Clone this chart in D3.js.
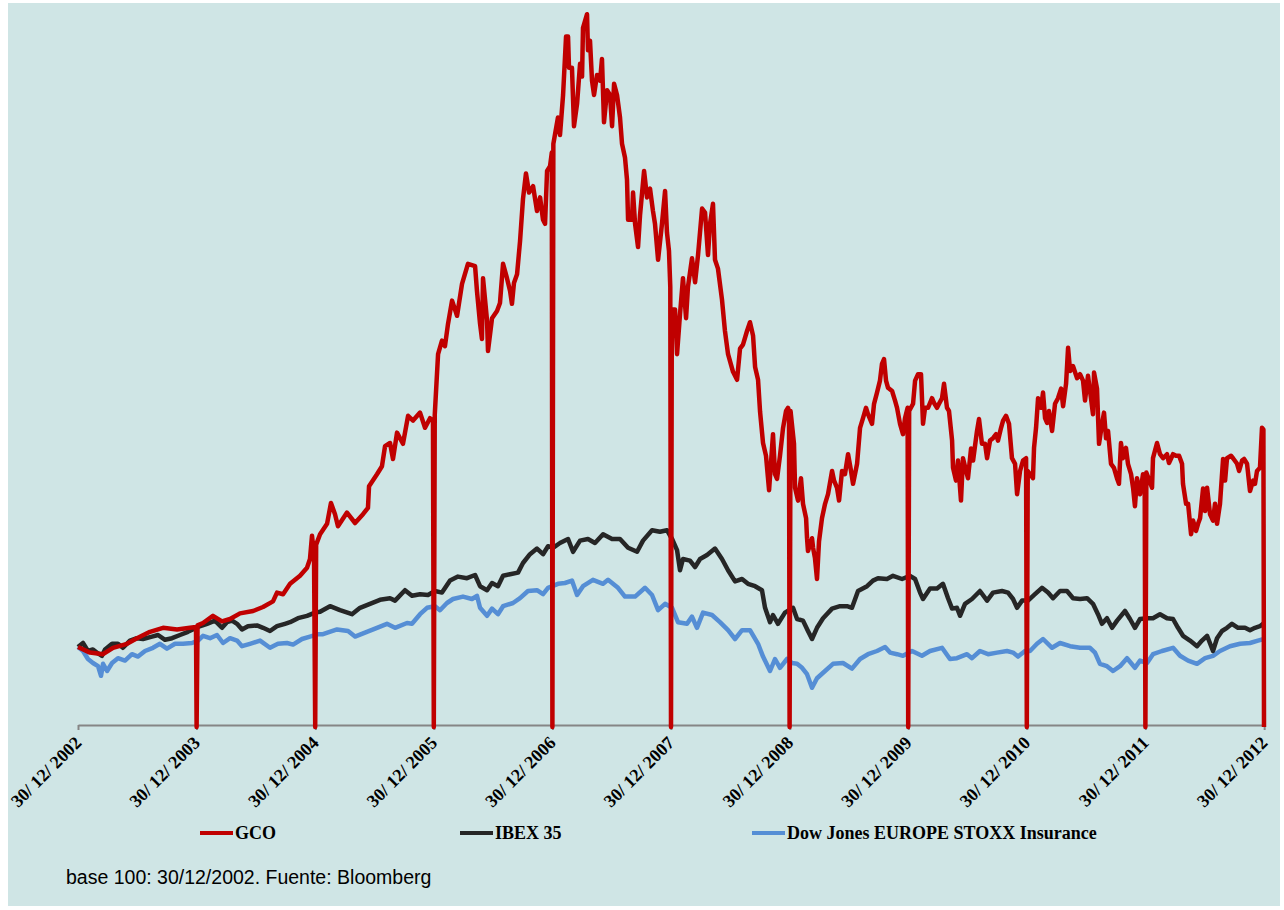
<!DOCTYPE html>
<html>
<head>
<meta charset="utf-8">
<script src="https://cdn.jsdelivr.net/npm/d3@7"></script>
<style>
  body { margin: 0; background: #ffffff; }
  svg { display: block; }
</style>
</head>
<body>
<svg id="chart" width="1284" height="910"></svg>
<script>
// Year-end dates shown on the time axis
const tickLabels = ["30/12/2002", "30/12/2003", "30/12/2004", "30/12/2005", "30/12/2006",
  "30/12/2007", "30/12/2008", "30/12/2009", "30/12/2010", "30/12/2011", "30/12/2012"];

const seriesNames = ["GCO", "IBEX 35", "Dow Jones EUROPE STOXX Insurance"];
const footnote = "base 100: 30/12/2002. Fuente: Bloomberg";

// Each point: [years elapsed since 30/12/2002, index value (base 100)]
// GCO carries a 0 on every year-end date.
const gco = [
  [0,100],[0.101,93],[0.211,91],[0.295,99],[0.413,104],[0.497,111],[0.607,119],[0.717,124],[0.835,122],[0.944,124],[0.995,125],
  [1,0],
  [1.008,127],[1.054,130],[1.138,139],[1.214,132],[1.282,135],[1.366,142],[1.476,145],[1.560,150],[1.644,157],[1.678,168],[1.729,166],[1.788,179],[1.872,189],[1.931,199],[1.956,210],[1.973,239],[1.990,216],
  [2,0],
  [2.008,228],[2.041,241],[2.100,254],[2.133,280],[2.167,266],[2.192,251],[2.268,268],[2.336,255],[2.403,266],[2.445,274],[2.454,301],[2.521,316],[2.563,326],[2.589,351],[2.631,355],[2.656,335],[2.690,368],[2.740,354],[2.783,389],[2.825,383],[2.884,393],[2.926,374],[2.968,386],[2.993,383],
  [3,0],
  [3.008,390],[3.036,466],[3.069,483],[3.094,476],[3.120,504],[3.154,533],[3.196,514],[3.238,554],[3.288,579],[3.348,576],[3.364,545],[3.390,504],[3.406,485],[3.415,561],[3.449,508],[3.457,470],[3.491,511],[3.533,520],[3.558,530],[3.584,579],[3.617,561],[3.643,545],[3.659,529],[3.676,555],[3.702,566],[3.727,607],[3.752,660],[3.777,692],[3.803,668],[3.837,676],[3.870,645],[3.896,662],[3.921,634],[3.938,629],[3.955,695],[3.980,701],[3.995,718],
  [4,0],
  [4.008,729],[4.047,762],[4.064,740],[4.090,790],[4.115,863],[4.132,863],[4.140,824],[4.165,824],[4.182,751],[4.208,779],[4.233,829],[4.250,813],[4.258,874],[4.292,891],[4.300,846],[4.317,858],[4.334,808],[4.351,790],[4.376,815],[4.402,808],[4.418,835],[4.435,756],[4.461,796],[4.486,790],[4.503,751],[4.520,804],[4.545,790],[4.570,762],[4.587,729],[4.612,712],[4.629,684],[4.638,634],[4.671,634],[4.680,668],[4.697,629],[4.722,600],[4.739,640],[4.773,695],[4.798,662],[4.823,673],[4.848,645],[4.865,629],[4.891,584],[4.924,629],[4.950,670],[4.966,618],[4.983,595],[4.994,550],
  [5,0],
  [5.007,522],[5.034,522],[5.051,466],[5.076,516],[5.101,561],[5.127,511],[5.143,550],[5.177,586],[5.203,556],[5.228,590],[5.262,648],[5.287,643],[5.312,590],[5.329,629],[5.354,654],[5.371,584],[5.396,573],[5.430,534],[5.455,495],[5.481,466],[5.523,444],[5.557,434],[5.582,473],[5.607,478],[5.641,495],[5.666,506],[5.692,489],[5.709,450],[5.734,434],[5.751,394],[5.776,355],[5.801,339],[5.827,296],[5.860,366],[5.877,316],[5.894,310],[5.919,339],[5.945,374],[5.970,395],[5.987,399],[5.995,390],
  [6,0],
  [6.008,395],[6.037,354],[6.046,299],[6.071,283],[6.096,311],[6.113,279],[6.139,261],[6.147,236],[6.155,220],[6.189,236],[6.198,224],[6.214,211],[6.231,185],[6.248,232],[6.273,261],[6.299,279],[6.324,291],[6.358,320],[6.375,308],[6.400,299],[6.417,283],[6.442,320],[6.467,316],[6.493,341],[6.518,320],[6.535,304],[6.569,329],[6.594,374],[6.619,386],[6.644,399],[6.661,391],[6.695,379],[6.712,404],[6.737,418],[6.762,433],[6.779,454],[6.796,460],[6.813,433],[6.830,424],[6.864,420],[6.889,408],[6.906,399],[6.931,379],[6.956,366],[6.973,386],[6.995,399],
  [7,0],
  [7.008,395],[7.041,404],[7.058,433],[7.083,441],[7.108,441],[7.125,379],[7.142,399],[7.167,399],[7.201,411],[7.218,405],[7.243,399],[7.260,404],[7.285,411],[7.302,429],[7.327,399],[7.344,395],[7.370,358],[7.378,324],[7.403,308],[7.420,333],[7.445,283],[7.462,336],[7.488,320],[7.504,311],[7.530,348],[7.547,333],[7.580,370],[7.597,385],[7.622,354],[7.648,354],[7.665,336],[7.690,358],[7.715,361],[7.741,366],[7.757,358],[7.783,374],[7.800,383],[7.825,389],[7.850,379],[7.875,336],[7.901,329],[7.918,291],[7.943,320],[7.968,333],[7.994,336],
  [8,0],
  [8.008,320],[8.052,311],[8.061,349],[8.078,374],[8.095,411],[8.120,399],[8.137,418],[8.154,386],[8.171,380],[8.187,395],[8.213,370],[8.238,404],[8.263,411],[8.289,423],[8.306,401],[8.331,429],[8.348,474],[8.365,445],[8.390,451],[8.424,436],[8.449,441],[8.474,433],[8.491,408],[8.516,439],[8.542,410],[8.558,391],[8.567,443],[8.592,423],[8.609,354],[8.634,379],[8.651,393],[8.668,361],[8.685,370],[8.710,329],[8.735,324],[8.760,311],[8.777,304],[8.794,355],[8.811,336],[8.836,349],[8.853,329],[8.879,316],[8.896,299],[8.912,276],[8.929,311],[8.955,291],[8.980,316],[8.994,308],
  [9,0],
  [9.008,318],[9.056,299],[9.064,336],[9.098,355],[9.123,341],[9.149,336],[9.182,341],[9.199,330],[9.233,341],[9.258,339],[9.284,339],[9.309,329],[9.317,304],[9.343,279],[9.360,279],[9.385,241],[9.402,258],[9.427,245],[9.444,254],[9.461,261],[9.486,298],[9.503,270],[9.520,299],[9.545,266],[9.570,258],[9.587,279],[9.604,254],[9.629,279],[9.655,335],[9.672,308],[9.688,336],[9.722,339],[9.739,336],[9.773,329],[9.790,320],[9.815,333],[9.832,335],[9.857,329],[9.882,295],[9.908,308],[9.924,304],[9.941,320],[9.966,324],[9.983,374],[9.995,372],
  [10,0]
];

const ibex = [
  [0,100],[0.042,105],[0.084,95],[0.126,97],[0.169,92],[0.202,89],[0.228,97],[0.287,104],[0.337,104],[0.379,99],[0.438,108],[0.497,111],[0.548,110],[0.624,113],[0.675,115],[0.734,109],[0.793,111],[0.860,115],[0.927,119],
  [1.012,125],[1.088,129],[1.155,133],[1.214,124],[1.256,131],[1.299,133],[1.341,129],[1.383,122],[1.433,126],[1.509,127],[1.560,124],[1.619,120],[1.678,126],[1.745,129],[1.788,131],[1.855,136],[1.931,139],[1.998,143],
  [2.041,144],[2.125,151],[2.209,146],[2.310,141],[2.378,149],[2.462,154],[2.546,159],[2.631,161],[2.673,158],[2.757,171],[2.816,164],[2.884,166],[2.951,165],
  [3.010,170],[3.069,168],[3.137,183],[3.204,188],[3.280,186],[3.348,190],[3.390,176],[3.449,171],[3.491,180],[3.541,176],[3.584,189],[3.643,191],[3.710,193],[3.752,205],[3.811,216],[3.870,223],[3.921,216],[3.963,226],
  [4.005,224],[4.064,230],[4.132,235],[4.174,219],[4.233,233],[4.300,235],[4.359,230],[4.427,241],[4.503,235],[4.570,235],[4.638,224],[4.714,219],[4.764,233],[4.840,246],[4.907,244],[4.966,246],
  [5.009,235],[5.051,221],[5.076,196],[5.101,210],[5.160,208],[5.203,200],[5.245,210],[5.304,215],[5.371,223],[5.430,210],[5.481,196],[5.540,182],[5.599,185],[5.649,179],[5.709,176],[5.767,171],[5.793,149],[5.835,131],[5.860,140],[5.902,129],[5.961,143],
  [6.029,149],[6.063,135],[6.113,133],[6.155,120],[6.189,110],[6.231,124],[6.282,136],[6.358,148],[6.425,151],[6.484,151],[6.526,149],[6.577,170],[6.653,176],[6.703,183],[6.745,186],[6.821,185],[6.872,189],[6.948,185],
  [7.015,189],[7.058,185],[7.100,168],[7.125,160],[7.184,173],[7.243,173],[7.293,179],[7.336,161],[7.370,148],[7.411,149],[7.437,139],[7.479,154],[7.538,160],[7.605,170],[7.665,158],[7.715,168],[7.791,170],[7.842,168],[7.884,160],[7.918,149],[7.960,158],
  [8.010,158],[8.069,166],[8.128,174],[8.179,168],[8.221,161],[8.280,170],[8.339,170],[8.390,161],[8.449,160],[8.508,161],[8.558,154],[8.600,141],[8.634,129],[8.676,136],[8.719,124],[8.761,133],[8.828,145],[8.870,135],[8.912,124],[8.955,135],
  [9.014,136],[9.064,136],[9.123,141],[9.182,136],[9.233,135],[9.275,124],[9.317,114],[9.376,108],[9.435,101],[9.477,108],[9.520,114],[9.570,95],[9.604,111],[9.646,120],[9.688,124],[9.730,129],[9.781,124],[9.840,124],[9.882,121],[9.924,124],[9.966,126],[10,130]
];

const stoxxInsurance = [
  [0,100],[0.042,95],[0.084,85],[0.126,80],[0.169,76],[0.194,64],[0.211,79],[0.245,70],[0.287,80],[0.337,86],[0.396,83],[0.455,91],[0.506,88],[0.565,95],[0.632,99],[0.691,104],[0.750,98],[0.818,104],[0.885,104],[0.961,105],
  [1.012,108],[1.054,114],[1.113,111],[1.172,115],[1.223,105],[1.282,111],[1.341,108],[1.383,101],[1.450,104],[1.535,108],[1.619,99],[1.686,104],[1.762,105],[1.813,103],[1.889,110],[1.956,113],
  [2.024,116],[2.066,116],[2.184,122],[2.277,120],[2.336,113],[2.420,118],[2.521,124],[2.605,129],[2.673,124],[2.774,130],[2.816,129],[2.884,141],[2.943,149],
  [3.010,151],[3.052,146],[3.111,155],[3.162,160],[3.246,163],[3.322,160],[3.364,164],[3.390,149],[3.449,139],[3.491,148],[3.541,141],[3.584,151],[3.668,155],[3.727,161],[3.794,170],[3.870,171],[3.921,166],[3.963,174],
  [4.047,179],[4.106,180],[4.165,183],[4.208,165],[4.258,176],[4.342,184],[4.427,179],[4.469,184],[4.553,174],[4.612,163],[4.697,163],[4.781,174],[4.840,165],[4.891,146],[4.950,154],
  [5.009,149],[5.059,131],[5.135,129],[5.177,138],[5.219,124],[5.270,143],[5.346,140],[5.413,131],[5.481,121],[5.540,110],[5.599,121],[5.666,121],[5.734,104],[5.776,88],[5.835,70],[5.877,85],[5.919,74],[5.978,85],
  [6.020,80],[6.063,79],[6.105,74],[6.147,66],[6.189,49],[6.231,61],[6.299,70],[6.366,79],[6.450,80],[6.526,73],[6.594,85],[6.661,91],[6.737,95],[6.805,100],[6.847,93],[6.906,91],[6.956,89],
  [7.032,95],[7.116,89],[7.184,95],[7.285,99],[7.352,85],[7.411,86],[7.496,91],[7.538,86],[7.605,95],[7.673,91],[7.749,93],[7.833,95],[7.884,93],[7.926,88],[7.985,95],
  [8.027,95],[8.086,104],[8.137,110],[8.213,99],[8.280,105],[8.365,101],[8.449,99],[8.533,99],[8.575,93],[8.617,79],[8.676,76],[8.727,70],[8.786,76],[8.845,86],[8.912,74],[8.955,83],
  [9.014,80],[9.064,91],[9.140,95],[9.233,99],[9.292,89],[9.360,83],[9.435,79],[9.503,86],[9.570,89],[9.629,95],[9.713,101],[9.798,104],[9.882,105],[9.949,108],[10,110]
];

const seriesColors = ["#c00000", "#262626", "#558ed5"];

// ---- layout ----
const svg = d3.select("#chart");

svg.append("rect")
  .attr("x", 8).attr("y", 3)
  .attr("width", 1272).attr("height", 903)
  .attr("fill", "#cfe5e5");

const parseDay = d3.timeParse("%d/%m/%Y");
const baseDate = parseDay(tickLabels[0]);
const DAY = 864e5;
const toDate = t => new Date(baseDate.getTime() + t * 365.25 * DAY);
const tickDates = tickLabels.map(parseDay);

const x = d3.scaleTime()
  .domain([toDate(0), toDate(10)])
  .range([78, 1264]);

const y = d3.scaleLinear()
  .domain([0, 900])
  .range([727, 7]);

// ---- x axis ----
const fmt = d3.timeFormat("%d/ %m/ %Y");
const axis = d3.axisBottom(x)
  .tickValues(tickDates)
  .tickFormat(fmt)
  .tickSize(5)
  .tickSizeOuter(0);

const gAxis = svg.append("g")
  .attr("transform", `translate(0,${y(0) - 2})`)
  .call(axis);

gAxis.select(".domain").attr("stroke", "#868686").attr("stroke-width", 2);
gAxis.selectAll(".tick line").attr("stroke", "#868686").attr("stroke-width", 2);
gAxis.selectAll(".tick text")
  .attr("x", 0).attr("y", 0).attr("dy", 0)
  .attr("text-anchor", "end")
  .attr("transform", "translate(4,19) rotate(-45)")
  .attr("fill", "#000")
  .style("font-family", "'Liberation Serif', 'Times New Roman', serif")
  .style("font-weight", "bold")
  .style("font-size", "18px");

// ---- lines ----
const line = d3.line()
  .x(d => x(toDate(d[0])))
  .y(d => y(d[1]));

const drawOrder = [
  { data: stoxxInsurance, color: seriesColors[2] },
  { data: ibex, color: seriesColors[1] },
  { data: gco, color: seriesColors[0] }
];

drawOrder.forEach(s => {
  svg.append("path")
    .datum(s.data)
    .attr("d", line)
    .attr("fill", "none")
    .attr("stroke", s.color)
    .attr("stroke-width", 4.5)
    .attr("stroke-linejoin", "round")
    .attr("stroke-linecap", "butt");
});

// ---- legend ----
const legendItems = [
  { name: seriesNames[0], color: seriesColors[0], x0: 200 },
  { name: seriesNames[1], color: seriesColors[1], x0: 460 },
  { name: seriesNames[2], color: seriesColors[2], x0: 752 }
];
const legendY = 833;
const lg = svg.append("g");
legendItems.forEach(it => {
  lg.append("line")
    .attr("x1", it.x0).attr("x2", it.x0 + 33)
    .attr("y1", legendY).attr("y2", legendY)
    .attr("stroke", it.color).attr("stroke-width", 4);
  lg.append("text")
    .attr("x", it.x0 + 35).attr("y", legendY + 6)
    .attr("fill", "#000")
    .style("font-family", "'Liberation Serif', 'Times New Roman', serif")
    .style("font-weight", "bold")
    .style("font-size", "18px")
    .text(it.name);
});

// ---- footnote ----
svg.append("text")
  .attr("x", 66).attr("y", 884)
  .attr("fill", "#000")
  .style("font-family", "'Liberation Sans', Arial, sans-serif")
  .style("font-size", "19.5px")
  .text(footnote);
</script>
</body>
</html>
